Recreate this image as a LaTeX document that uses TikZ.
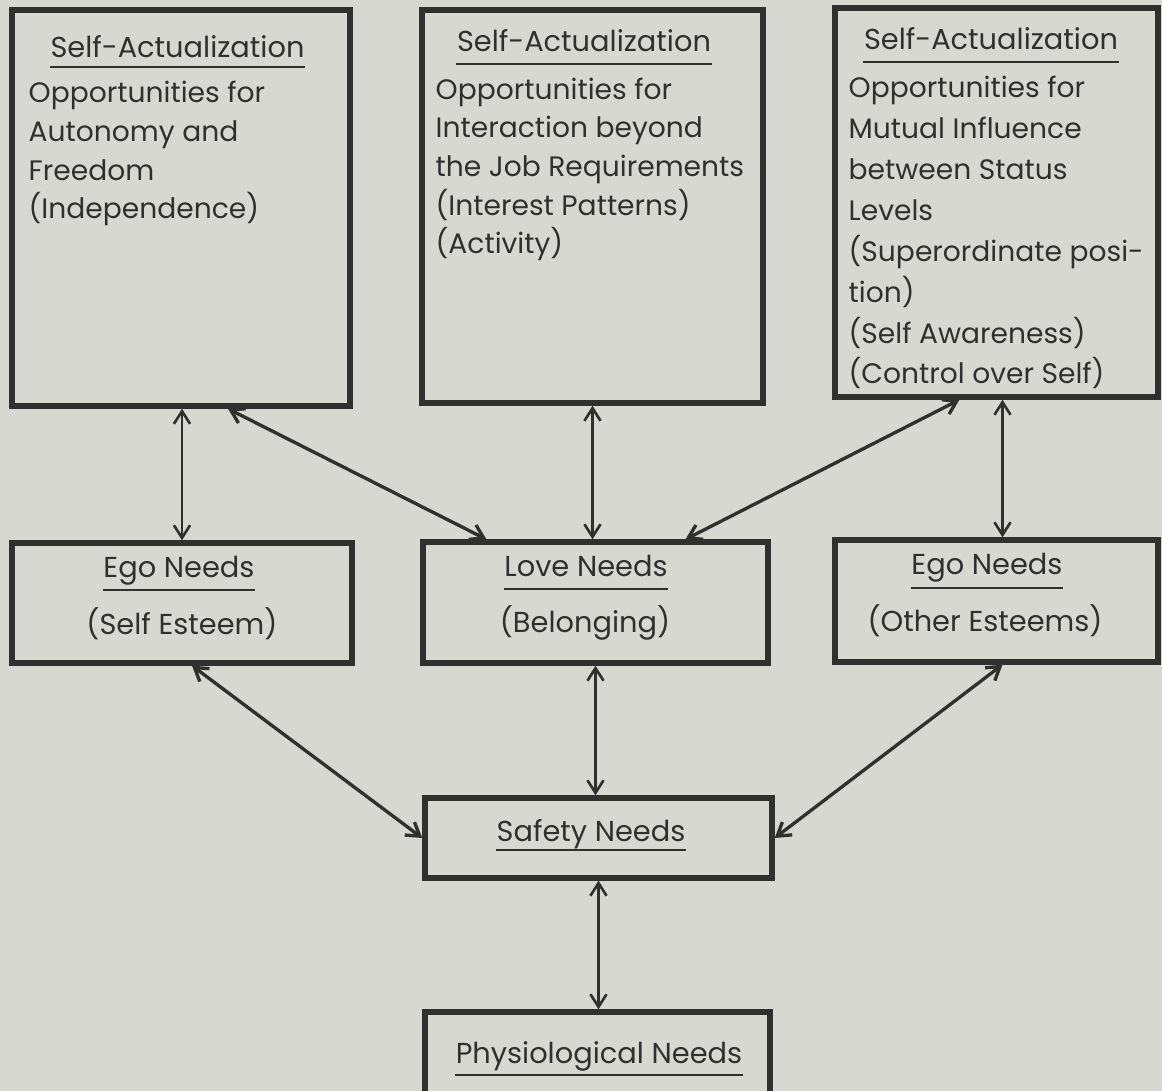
\documentclass[tikz,border=0pt]{standalone}
\usepackage{fontspec}
\setmainfont{Poppins}
\usetikzlibrary{arrows.meta}

\definecolor{paper}{RGB}{216,216,211}
\definecolor{ink}{RGB}{48,48,46}

\tikzset{
  needbox/.style={draw=ink, line width=1.5pt, rectangle, inner sep=0pt},
  headtext/.style={text=ink, inner sep=0pt, anchor=base, font=\fontsize{8.2}{9}\selectfont},
  bodytext/.style={text=ink, inner sep=0pt, anchor=base west, align=left, font=\fontsize{8}{11}\selectfont},
  uline/.style={ink, line width=0.8pt},
  link/.style={ink, line width=0.75pt, {Straight Barb[length=3.6pt,width=4.6pt]}-{Straight Barb[length=3.6pt,width=4.6pt]}},
  slant/.style={link, line width=0.95pt},
}

\begin{document}
\begin{tikzpicture}[x=0.01cm, y=-0.01cm]
% paper and page size
\fill[paper] (0,0) rectangle (1162,1091);
\useasboundingbox (0,0) rectangle (1162,1091);
%
% draw the boxes
\node[needbox, minimum width=3.38cm, minimum height=3.96cm] (selfA)  at (181,   208)   {};
\node[needbox, minimum width=3.41cm, minimum height=3.93cm] (selfB)  at (592.5, 206.5) {};
\node[needbox, minimum width=3.23cm, minimum height=3.89cm] (selfC)  at (996.5, 202.5) {};
\node[needbox, minimum width=3.40cm, minimum height=1.20cm] (egoL)   at (182,   603)   {};
\node[needbox, minimum width=3.45cm, minimum height=1.21cm] (love)   at (595.5, 602.5) {};
\node[needbox, minimum width=3.23cm, minimum height=1.22cm] (egoR)   at (996.5, 601)   {};
\node[needbox, minimum width=3.47cm, minimum height=0.80cm] (safety) at (598.5, 838)   {};
\node[needbox, minimum width=3.45cm, minimum height=0.98cm] (physio) at (597.5, 1061)  {};
%
% box titles
\node[headtext] (titleA)  at (177.5,   58) {Self-Actualization};
\node[headtext] (titleB)  at (584,     52) {Self-Actualization};
\node[headtext] (titleC)  at (991,     50) {Self-Actualization};
\node[headtext] (titleEL) at (179,    578) {Ego Needs};
\node[headtext] (titleLO) at (586,    577) {Love Needs};
\node[headtext] (titleER) at (987,    575) {Ego Needs};
\node[headtext] (titleSA) at (591,    842) {Safety Needs};
\node[headtext] (titlePH) at (599,   1064) {Physiological Needs};
% underlines
\draw[uline] ([yshift=-0.09cm]titleA.base west)  -- ([yshift=-0.09cm]titleA.base east);
\draw[uline] ([yshift=-0.12cm]titleB.base west)  -- ([yshift=-0.12cm]titleB.base east);
\draw[uline] ([yshift=-0.12cm]titleC.base west)  -- ([yshift=-0.12cm]titleC.base east);
\draw[uline] ([yshift=-0.12cm]titleEL.base west) -- ([yshift=-0.12cm]titleEL.base east);
\draw[uline] ([yshift=-0.12cm]titleLO.base west) -- ([yshift=-0.12cm]titleLO.base east);
\draw[uline] ([yshift=-0.13cm]titleER.base west) -- ([yshift=-0.13cm]titleER.base east);
\draw[uline] ([yshift=-0.08cm]titleSA.base west) -- ([yshift=-0.08cm]titleSA.base east);
\draw[uline] ([yshift=-0.11cm]titlePH.base west) -- ([yshift=-0.11cm]titlePH.base east);
%
% box contents (placed by the baseline of the last line)
\node[bodytext] (textA) at (28, 219) {Opportunities for\\ Autonomy and\\ Freedom\\ (Independence)};
\node[bodytext] (textB) at (435, 254) {Opportunities for\\ Interaction beyond\\ the Job Requirements\\ (Interest Patterns)\\ (Activity)};
\node[bodytext, font=\fontsize{8}{11.65}\selectfont] (textC) at (848, 384)
  {Opportunities for\\ Mutual Influence\\ between Status\\ Levels\\ (Superordinate posi-\\ tion)\\ (Self Awareness)\\ (Control over Self)};
\node[headtext] (textEL) at (182, 635) {(Self Esteem)};
\node[headtext] (textLO) at (585, 633) {(Belonging)};
\node[headtext] (textER) at (985, 632) {(Other Esteems)};
%
% draw the connecting arrows
\draw[link]  (egoL.north |- selfA.south)      -- (egoL.north);
\draw[slant] ([xshift=0.47cm]selfA.south)     -- ([xshift=-1.09cm]love.north);
\draw[link]  (selfB.south)                    -- (selfB.south |- love.north);
\draw[slant] ([xshift=-0.37cm]selfC.south)    -- ([xshift=0.9cm]love.north);
\draw[link]  ([xshift=0.06cm]selfC.south)     -- ([xshift=0.06cm]egoR.north);
\draw[slant] ([xshift=0.1cm]egoL.south)       -- (safety.west);
\draw[link]  (love.south)                     -- (love.south |- safety.north);
\draw[slant] ([xshift=0.06cm]egoR.south)      -- (safety.east);
\draw[link]  (safety.south)                   -- (safety.south |- physio.north);
\end{tikzpicture}
\end{document}
